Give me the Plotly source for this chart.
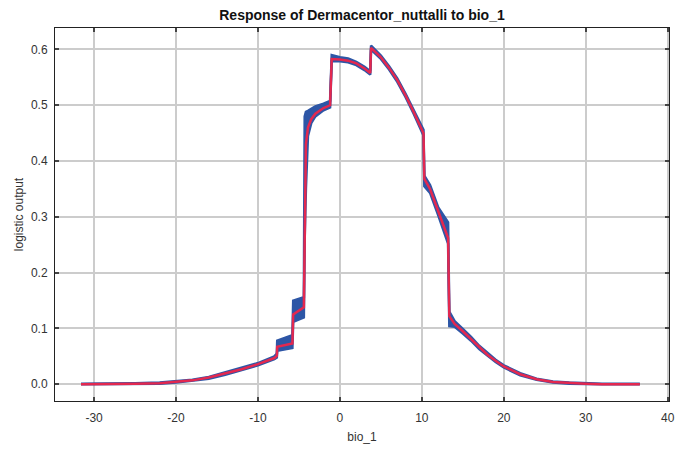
import plotly.graph_objects as go

# bio_1 values (x), mean response, lower and upper band (mean +/- sd)
bio = [-31.6, -26.0, -25.0, -22.0, -20.0, -18.0, -16.0, -14.0, -12.0, -10.0, -8.0, -7.7,
       -7.65, -5.8, -5.7, -4.4, -4.3, -4.15, -3.9, -3.5, -3.0, -2.0, -1.2, -1.0,
       0.0, 1.0, 2.0, 3.0, 3.7, 3.8, 5.0, 6.0, 7.0, 8.0, 9.0, 10.0, 10.2,
       10.3, 11.0, 12.0, 13.2, 13.35, 14.0, 15.0, 16.0, 17.0, 18.0, 19.0, 20.0,
       22.0, 24.0, 26.0, 28.0, 30.0, 32.0, 36.6]
mean = [0.000, 0.000, 0.001, 0.002, 0.004, 0.007, 0.012, 0.019, 0.027, 0.036, 0.047, 0.051,
        0.067, 0.073, 0.125, 0.138, 0.300, 0.430, 0.460, 0.475, 0.485, 0.495, 0.500, 0.583,
        0.582, 0.580, 0.575, 0.566, 0.558, 0.603, 0.586, 0.567, 0.545, 0.518, 0.488, 0.456, 0.450,
        0.368, 0.350, 0.310, 0.262, 0.122, 0.108, 0.095, 0.081, 0.066, 0.053, 0.042, 0.032,
        0.018, 0.009, 0.004, 0.002, 0.001, 0.000, 0.000]
lower = [0.000, 0.000, 0.000, 0.001, 0.003, 0.006, 0.010, 0.017, 0.025, 0.034, 0.045, 0.048,
         0.060, 0.065, 0.112, 0.120, 0.260, 0.350, 0.445, 0.468, 0.480, 0.491, 0.496, 0.579,
         0.579, 0.577, 0.572, 0.563, 0.555, 0.600, 0.583, 0.564, 0.542, 0.515, 0.485, 0.452, 0.446,
         0.355, 0.343, 0.303, 0.252, 0.104, 0.103, 0.091, 0.078, 0.063, 0.051, 0.040, 0.030,
         0.016, 0.008, 0.003, 0.001, 0.000, 0.000, 0.000]
upper = [0.001, 0.001, 0.002, 0.003, 0.005, 0.008, 0.013, 0.021, 0.029, 0.038, 0.050, 0.055,
         0.078, 0.088, 0.150, 0.156, 0.480, 0.488, 0.490, 0.494, 0.498, 0.503, 0.508, 0.590,
         0.586, 0.584, 0.578, 0.569, 0.561, 0.607, 0.589, 0.570, 0.548, 0.521, 0.491, 0.460, 0.456,
         0.374, 0.357, 0.317, 0.290, 0.130, 0.113, 0.099, 0.085, 0.069, 0.056, 0.044, 0.034,
         0.020, 0.010, 0.005, 0.003, 0.002, 0.001, 0.001]

x_ticks = [-30, -20, -10, 0, 10, 20, 30, 40]
y_ticks = [0.0, 0.1, 0.2, 0.3, 0.4, 0.5, 0.6]

BLUE = "#2d56a6"
RED = "#e3284f"
FONT = "Liberation Sans, Arial, sans-serif"

fig = go.Figure()
fig.add_trace(go.Scatter(x=bio, y=lower, mode="lines", line=dict(color=BLUE, width=2.5),
                         showlegend=False, hoverinfo="skip"))
fig.add_trace(go.Scatter(x=bio, y=upper, mode="lines", line=dict(color=BLUE, width=2.5),
                         fill="tonexty", fillcolor=BLUE, showlegend=False, hoverinfo="skip"))
fig.add_trace(go.Scatter(x=bio, y=mean, mode="lines", line=dict(color=RED, width=2.5),
                         showlegend=False))

axis_common = dict(
    showline=True, linecolor="#222222", linewidth=1, mirror="ticks",
    ticks="inside", ticklen=4, tickcolor="#444444", tickwidth=2,
    showgrid=True, gridcolor="#cccccc", gridwidth=1.5, zeroline=False,
    tickfont=dict(family=FONT, size=12, color="#333333"),
)

# page has an 8px body offset; margins compensate so the plot box lands at 55..669 x 28..401
fig.update_layout(
    width=691, height=453,
    margin=dict(l=47, r=30, t=20, b=60),
    paper_bgcolor="white", plot_bgcolor="white",
    title=dict(text="<b>Response of Dermacentor_nuttalli to bio_1</b>",
               x=354 / 691, xanchor="center", y=1 - 7 / 453, yanchor="middle",
               font=dict(family=FONT, size=14, color="#111111")),
    xaxis=dict(range=[-34.77, 40.16], tickvals=x_ticks, ticktext=[str(v) for v in x_ticks],
               title=dict(text="bio_1", standoff=8, font=dict(family=FONT, size=12, color="#333333")),
               ticklabelstandoff=6, **axis_common),
    yaxis=dict(range=[-0.030, 0.6385], tickvals=y_ticks, ticktext=[f"{v:.1f}" for v in y_ticks],
               title=dict(text="logistic output", standoff=4, font=dict(family=FONT, size=12, color="#333333")),
               ticklabelstandoff=4, **axis_common),
)

fig.write_html("out.html")
